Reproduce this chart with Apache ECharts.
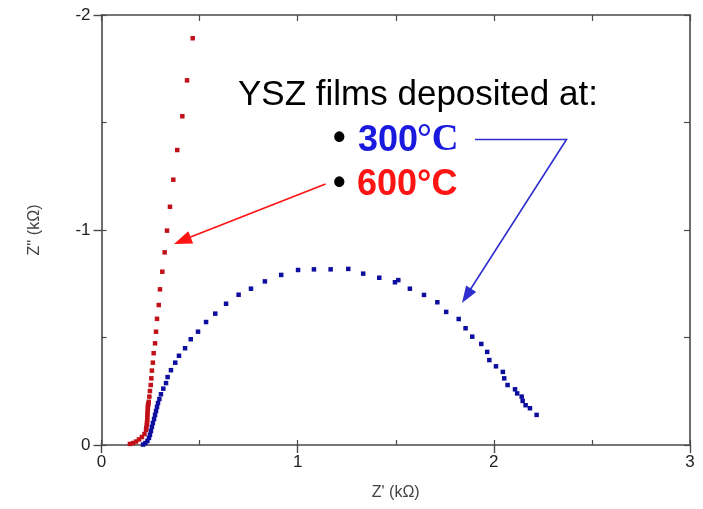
<!DOCTYPE html>
<html>
<head>
<meta charset="utf-8">
<script src="https://cdn.jsdelivr.net/npm/echarts@6/dist/echarts.min.js"></script>
<style>
html,body{margin:0;padding:0;background:#fff;}
#c{width:703px;height:509px;}
</style>
</head>
<body>
<div id="c"></div>
<script>
// ---- data (Z' in kOhm, Z'' in kOhm) ----
var red600X = [0.145,0.161,0.176,0.191,0.206,0.219,0.227,0.228,0.231,0.232,0.233,0.2335,0.234,0.235,0.236,0.2365,0.237,0.239,0.241,0.244,0.247,0.251,0.254,0.257,0.262,0.266,0.273,0.278,0.283,0.292,0.298,0.310,0.322,0.334,0.349,0.366,0.386,0.412,0.436,0.465];
var red600Y = [-0.005,-0.009,-0.016,-0.026,-0.037,-0.051,-0.070,-0.080,-0.093,-0.105,-0.116,-0.128,-0.140,-0.152,-0.163,-0.175,-0.186,-0.192,-0.201,-0.225,-0.251,-0.279,-0.310,-0.346,-0.383,-0.427,-0.473,-0.527,-0.587,-0.651,-0.724,-0.806,-0.896,-0.997,-1.108,-1.234,-1.372,-1.529,-1.696,-1.892];
var blue300X = [0.212,0.224,0.234,0.242,0.247,0.252,0.257,0.262,0.268,0.273,0.278,0.283,0.288,0.295,0.303,0.315,0.329,0.337,0.354,0.376,0.395,0.426,0.455,0.492,0.533,0.580,0.635,0.699,0.762,0.833,0.916,1.002,1.083,1.168,1.258,1.334,1.416,1.496,1.513,1.572,1.644,1.712,1.757,1.821,1.856,1.890,1.936,1.966,1.977,2.011,2.046,2.053,2.070,2.108,2.119,2.142,2.147,2.162,2.184,2.218];
var blue300Y = [-0.002,-0.009,-0.019,-0.033,-0.047,-0.065,-0.084,-0.102,-0.121,-0.140,-0.158,-0.177,-0.195,-0.214,-0.236,-0.262,-0.288,-0.316,-0.348,-0.383,-0.415,-0.450,-0.492,-0.527,-0.572,-0.611,-0.657,-0.699,-0.727,-0.761,-0.791,-0.814,-0.817,-0.817,-0.819,-0.797,-0.778,-0.757,-0.767,-0.727,-0.698,-0.664,-0.619,-0.586,-0.543,-0.504,-0.470,-0.433,-0.395,-0.366,-0.340,-0.310,-0.279,-0.259,-0.240,-0.225,-0.205,-0.185,-0.171,-0.140];
var xTicks = [0, 1, 2, 3];
var yTicks = [-2, -1, 0];
var xName = "Z' (k\u03A9)";
var yName = "Z'' (k\u03A9)";
var noteTitle = "YSZ films deposited at:";
var note300 = ["300", "\u00B0C"];
var note600 = "600\u00B0C";

function pairs(xs, ys){ return xs.map(function(x,i){ return [x, ys[i]]; }); }

var FONT = "Liberation Sans, Arial, sans-serif";
var axisCol = '#4a4a4a';

function arrowHead(tip, from, len, wid, color){
  var dx = tip[0]-from[0], dy = tip[1]-from[1];
  var L = Math.sqrt(dx*dx+dy*dy); dx/=L; dy/=L;
  var bx = tip[0]-dx*len, by = tip[1]-dy*len;
  var nx = -dy, ny = dx;
  return {type:'polygon', shape:{points:[tip,[bx+nx*wid/2,by+ny*wid/2],[bx-nx*wid/2,by-ny*wid/2]]}, style:{fill:color}, z:10};
}

var chart = echarts.init(document.getElementById('c'), null, {renderer:'canvas'});
var gridL = 101.5, gridR = 703-690, gridT = 15, gridB = 509-445;

var option = {
  animation:false,
  backgroundColor:'#fff',
  grid:{left:gridL, right:gridR, top:gridT, bottom:gridB},
  xAxis:[
    {type:'value', position:'bottom', min:0, max:3, interval:1,
     axisLine:{show:true,onZero:false,lineStyle:{color:axisCol,width:1.6}},
     axisTick:{show:true,length:8,lineStyle:{color:axisCol,width:1.4}},
     axisLabel:{show:true,fontSize:17,color:'#222',fontFamily:FONT,margin:9,
       formatter:function(v){ return xTicks.indexOf(v)>=0 ? String(v) : ''; }},
     splitLine:{show:false},
     name:xName, nameLocation:'middle', nameGap:40,
     nameTextStyle:{fontSize:16,color:'#444',fontFamily:FONT}},
    {type:'value', position:'bottom', min:0, max:3, interval:0.5,
     axisLine:{show:false,onZero:false}, axisTick:{show:true,inside:true,length:5,lineStyle:{color:axisCol,width:1.2}},
     axisLabel:{show:false}, splitLine:{show:false}},
    {type:'value', position:'top', min:0, max:3, interval:0.5,
     axisLine:{show:true,onZero:false,lineStyle:{color:axisCol,width:1.6}},
     axisTick:{show:true,inside:true,length:6,lineStyle:{color:axisCol,width:1.2}},
     axisLabel:{show:false}, splitLine:{show:false}}
  ],
  yAxis:[
    {type:'value', position:'left', min:-2, max:0, interval:1, inverse:true,
     axisLine:{show:true,onZero:false,lineStyle:{color:axisCol,width:1.6}},
     axisTick:{show:true,length:8,lineStyle:{color:axisCol,width:1.4}},
     axisLabel:{show:true,fontSize:17,color:'#222',fontFamily:FONT,margin:11,
       formatter:function(v){ return yTicks.indexOf(v)>=0 ? String(v) : ''; }},
     splitLine:{show:false},
     name:yName, nameLocation:'middle', nameGap:59,
     nameTextStyle:{fontSize:16,color:'#444',fontFamily:FONT}},
    {type:'value', position:'left', min:-2, max:0, interval:0.5, inverse:true,
     axisLine:{show:false,onZero:false}, axisTick:{show:true,inside:true,length:5,lineStyle:{color:axisCol,width:1.2}},
     axisLabel:{show:false}, splitLine:{show:false}},
    {type:'value', position:'right', min:-2, max:0, interval:0.5, inverse:true,
     axisLine:{show:true,onZero:false,lineStyle:{color:axisCol,width:1.6}},
     axisTick:{show:true,inside:true,length:6,lineStyle:{color:axisCol,width:1.2}},
     axisLabel:{show:false}, splitLine:{show:false}}
  ],
  series:[
    {name:'600', type:'scatter', xAxisIndex:0, yAxisIndex:0, symbol:'rect', symbolSize:4.5,
     itemStyle:{color:'#c01018', opacity:1}, data:pairs(red600X, red600Y), z:3},
    {name:'300', type:'scatter', xAxisIndex:0, yAxisIndex:0, symbol:'rect', symbolSize:4.5,
     itemStyle:{color:'#0e0e9e', opacity:1}, data:pairs(blue300X, blue300Y), z:4}
  ],
  graphic:[
    {type:'text', left:238, top:78, style:{text:noteTitle, font:'35px '+FONT, fill:'#000'}, z:10},
    {type:'text', left:333, top:121, style:{text:'\u2022', font:'bold 36px '+FONT, fill:'#000'}, z:10},
    {type:'text', left:358, top:123, style:{text:note300[0], font:'bold 36px '+FONT, fill:'#1a1adf'}, z:10},
    {type:'text', left:417, top:122, style:{text:note300[1], font:'bold 37px Liberation Serif, Times New Roman, serif', fill:'#1a1adf'}, z:10},
    {type:'text', left:333, top:166, style:{text:'\u2022', font:'bold 36px '+FONT, fill:'#000'}, z:10},
    {type:'text', left:357, top:167, style:{text:note600, font:'bold 36px '+FONT, fill:'#ff1414'}, z:10},
    {type:'polyline', shape:{points:[[475,139.5],[566.5,139.5],[470,290]]}, style:{stroke:'#2f2fd0',lineWidth:1.6,fill:null}, z:10},
    arrowHead([462,303],[566.5,139.5],17,12,'#2f2fd0'),
    {type:'line', shape:{x1:325.5,y1:184,x2:188,y2:238}, style:{stroke:'#ff1414',lineWidth:1.8}, z:10},
    arrowHead([174,244],[325.5,184],18,13,'#ff1414')
  ]
};
chart.setOption(option);
</script>
</body>
</html>
